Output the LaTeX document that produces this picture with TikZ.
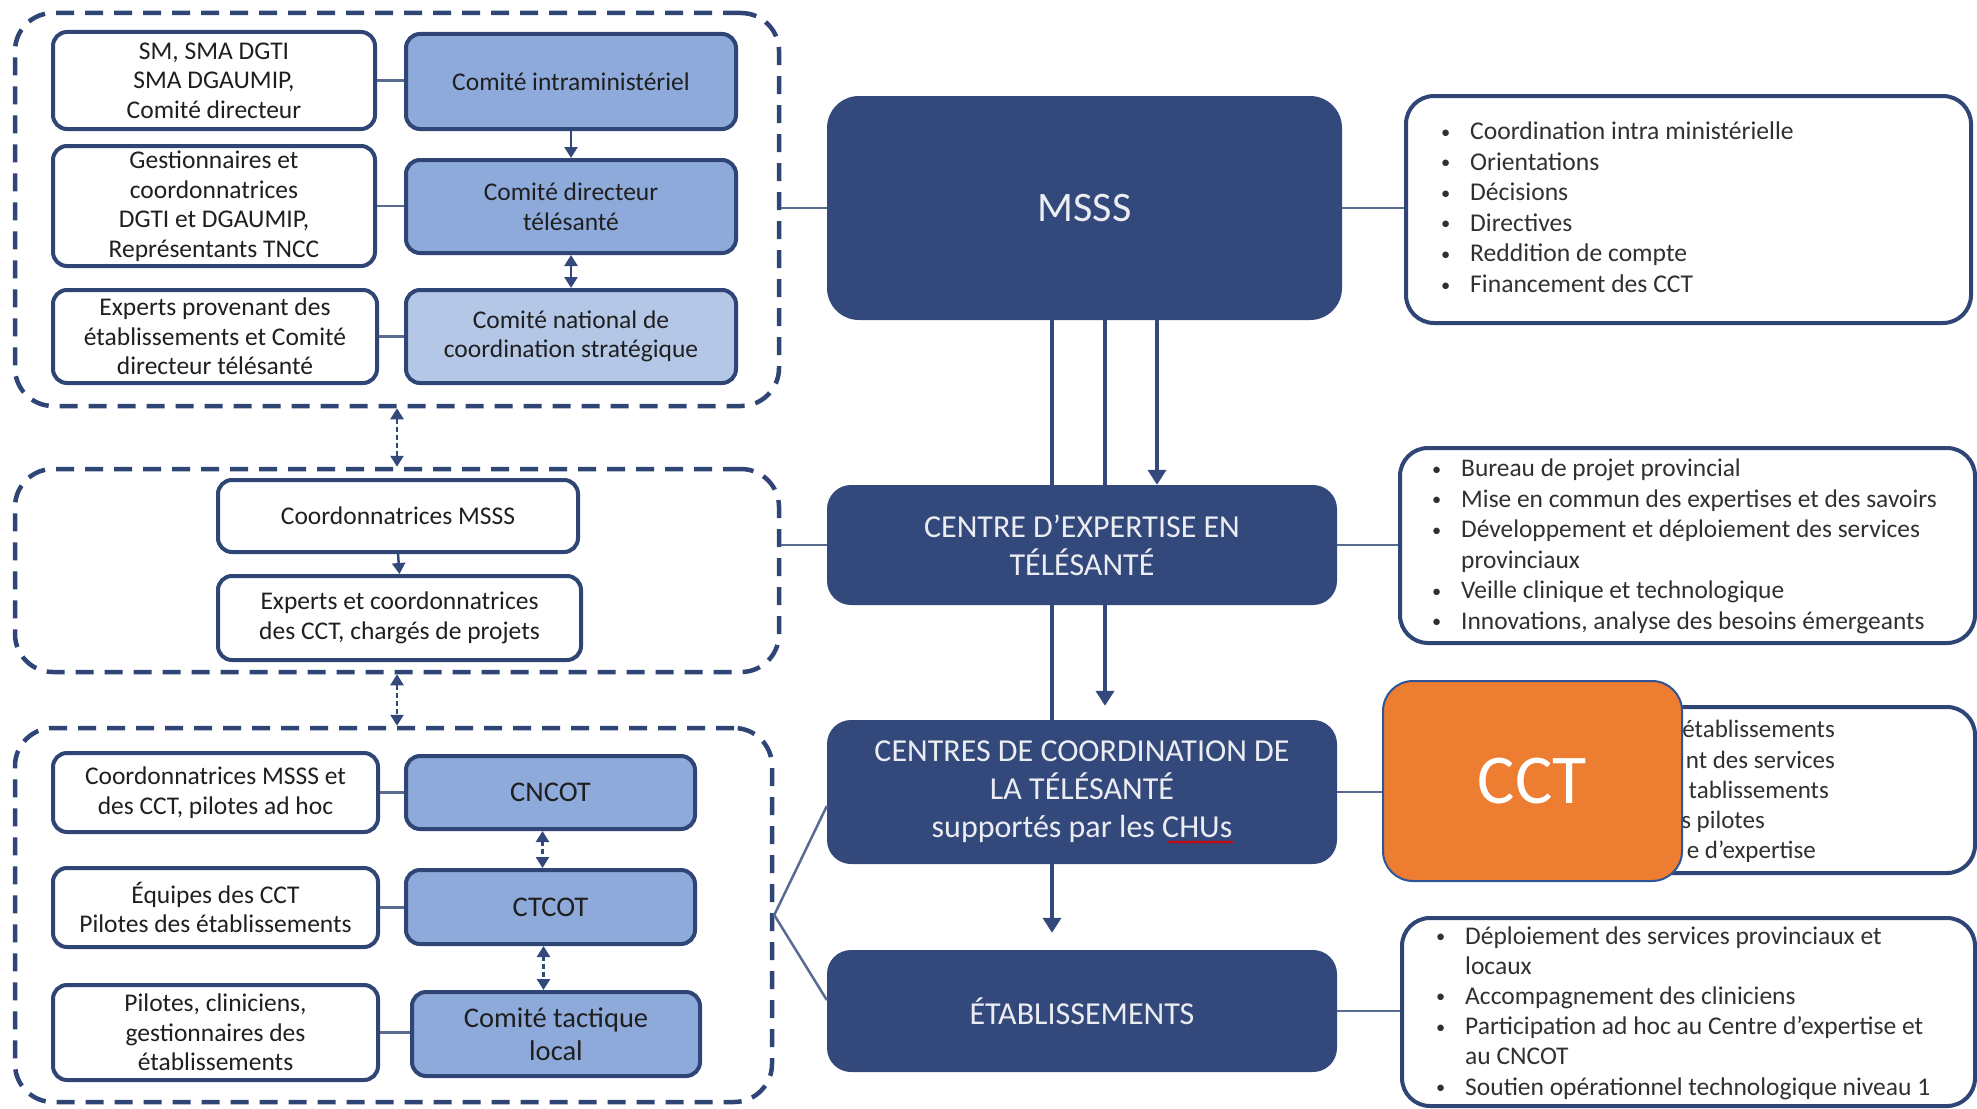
\documentclass[tikz,border=0pt]{standalone}
\usepackage{fontspec}
\usepackage{graphicx}
\setmainfont{Carlito}
\usetikzlibrary{arrows.meta,calc,decorations.pathmorphing}
\definecolor{navy}{HTML}{34497B}
\definecolor{bord}{HTML}{2F4576}
\definecolor{lblue}{HTML}{8EAADB}
\definecolor{llblue}{HTML}{B4C7E7}
\definecolor{orng}{HTML}{ED7D31}
\definecolor{obord}{HTML}{2F5597}
\definecolor{txt}{HTML}{1F1F1F}
\definecolor{txtb}{HTML}{303030}
\definecolor{conn}{HTML}{5A6B92}
\newcommand\mybul{\makebox[29pt][l]{\raisebox{1.5pt}{\scalebox{0.72}{\textbullet}}}}
\tikzset{
  box/.style={draw=bord, line width=4pt, rounded corners=14pt, inner sep=0pt, align=center, text=txt, font=\fontsize{25.5}{29.5}\selectfont},
  wbox/.style={box, fill=white},
  bbox/.style={box, fill=lblue},
  bigbox/.style={box, fill=lblue, font=\fontsize{28.5}{33}\selectfont},
  mainbox/.style={fill=navy, draw=none, rounded corners=24pt, text=white!90!navy, align=center, font=\fontsize{32}{38}\selectfont, inner sep=0pt},
  grp/.style={draw=bord, line width=4.5pt, dash pattern=on 18pt off 11pt, rounded corners=38pt, inner sep=0pt},
  rbox/.style={draw=bord, line width=4pt, rounded corners=28pt, fill=white, inner sep=0pt},
  lnk/.style={draw=conn, line width=2.5pt},
  sarr/.style={draw=navy, line width=2.5pt, -{Triangle[width=13pt,length=11pt]}},
  dsarr/.style={draw=navy, line width=2.5pt, dash pattern=on 5pt off 3pt, {Triangle[width=13pt,length=11pt]}-{Triangle[width=13pt,length=11pt]}},
  barr/.style={draw=navy, line width=2.5pt, {Triangle[width=13pt,length=11pt]}-{Triangle[width=13pt,length=11pt]}},
  vline/.style={draw=navy, line width=4.5pt},
  vtip/.style={-{Triangle[width=18pt,length=15pt]}},
  lst/.style={anchor=base west, inner sep=0pt, text=txtb, align=left},
  frag/.style={anchor=base east, inner sep=0pt, text=txtb, font=\fontsize{25}{30.5}\selectfont}
}
\begin{document}
\begin{tikzpicture}[x=1pt,y=-1pt]
\useasboundingbox[fill=white] (0,0) rectangle (1977,1108);

% ---------- left groups ----------
\node[grp, minimum width=764pt, minimum height=393pt] (g1) at (397,209.5) {};
\node[wbox, minimum width=322pt, minimum height=97pt] (l1) at (214,80.5) {SM, SMA DGTI\\SMA DGAUMIP,\\Comité directeur};
\node[bbox, minimum width=330pt, minimum height=95pt] (r1) at (571,81.5) {Comité intraministériel};
\node[wbox, minimum width=322pt, minimum height=120pt] (l2) at (214,206) {Gestionnaires et\\coordonnatrices\\DGTI et DGAUMIP,\\Représentants TNCC};
\node[bbox, minimum width=330pt, minimum height=93pt] (r2) at (571,206.5) {Comité directeur\\télésanté};
\node[wbox, minimum width=324pt, minimum height=93pt] (l3) at (215,336.5) {Experts provenant des\\établissements et Comité\\directeur télésanté};
\node[box, fill=llblue, minimum width=330pt, minimum height=93pt] (r3) at (571,336.5) {Comité national de\\coordination stratégique};

\node[grp, minimum width=764pt, minimum height=203pt] (g2) at (397,570.5) {};
\node[wbox, minimum width=360pt, minimum height=72pt] (m1) at (398,516) {Coordonnatrices MSSS};
\node[wbox, minimum width=363pt, minimum height=84pt] (m2) at (399.5,618) {Experts et coordonnatrices\\des CCT, chargés de projets};

\node[grp, minimum width=757pt, minimum height=374pt] (g3) at (393.5,915) {};
\node[wbox, minimum width=325pt, minimum height=79pt] (bl1) at (215.5,792.5) {Coordonnatrices MSSS et\\des CCT, pilotes ad hoc};
\node[bigbox, minimum width=289pt, minimum height=73pt] (cncot) at (550.5,792.5) {CNCOT};
\node[wbox, minimum width=325pt, minimum height=79pt] (bl2) at (215.5,907.5) {Équipes des CCT\\Pilotes des établissements};
\node[bigbox, minimum width=289pt, minimum height=74pt] (ctcot) at (550.5,907) {CTCOT};
\node[wbox, minimum width=325pt, minimum height=95pt] (bl3) at (215.5,1032.5) {Pilotes, cliniciens,\\gestionnaires des\\établissements};
\node[bigbox, minimum width=288pt, minimum height=84pt] (ctl) at (556,1034) {Comité tactique\\local};

% left internal links
\draw[lnk] (l1.east) -- (l1.east -| r1.west);
\draw[lnk] (l2.east) -- (l2.east -| r2.west);
\draw[lnk] (l3.east) -- (l3.east -| r3.west);
\draw[lnk] (bl1.east) -- (bl1.east -| cncot.west);
\draw[lnk] (bl2.east) -- (bl2.east -| ctcot.west);
\draw[lnk] (bl3.east) -- (bl3.east -| ctl.west);

\draw[sarr] (r1.south) -- (r2.north);
\draw[barr] (r2.south) -- (r3.north);
\draw[sarr] (m1.south) -- (m2.north);
\draw[dsarr] (g1.south) -- (g1.south |- g2.north);
\draw[dsarr] (g2.south) -- (g2.south |- g3.north);
\coordinate (c1) at ($(cncot.south)+(-8,0)$);
\draw[dsarr] (c1) -- (c1 |- ctcot.north);
\coordinate (c2) at ($(ctcot.south)+(-7,0)$);
\draw[dsarr] (c2) -- (c2 |- ctl.north);

% ---------- centre column ----------
\node[mainbox, rounded corners=32pt, minimum width=515pt, minimum height=224pt, font=\fontsize{42}{50}\selectfont] (msss) at (1084.5,208) {MSSS};
\node[mainbox, minimum width=510pt, minimum height=120pt] (ce) at (1082,545) {CENTRE D’EXPERTISE EN\\TÉLÉSANTÉ};
\node[mainbox, minimum width=510pt, minimum height=144pt] (cct) at (1082,792) {CENTRES DE COORDINATION DE\\LA TÉLÉSANTÉ\\supportés par les CHUs};
\node[mainbox, minimum width=510pt, minimum height=122pt] (etab) at (1082,1011) {ÉTABLISSEMENTS};
\draw[red!85!black, line width=1.1pt, decorate, decoration={snake, amplitude=1.2pt, segment length=4pt}] (1168,842) -- (1234,842);

\coordinate (a1) at ($(msss.south)+(-32.5,0)$);
\coordinate (a2) at ($(msss.south)+(20.5,0)$);
\coordinate (a3) at ($(msss.south)+(72.5,0)$);
\draw[vline] (a1) -- (a1 |- ce.north);
\draw[vline] (a1 |- ce.south) -- (a1 |- cct.north);
\draw[vline, vtip, shorten >=17pt] (a1 |- cct.south) -- (a1 |- etab.north);
\draw[vline] (a2) -- (a2 |- ce.north);
\draw[vline, vtip, shorten >=14pt] (a2 |- ce.south) -- (a2 |- cct.north);
\draw[vline, vtip] (a3) -- (a3 |- ce.north);

\draw[lnk] (g1.east |- msss.west) -- (msss.west);
\draw[lnk] (g2.east |- ce.west) -- (ce.west);
\draw[lnk] (g3.east) -- ($(cct.west)+(0,14)$);
\draw[lnk] (g3.east) -- ($(etab.west)+(0,-11)$);

% ---------- right column ----------
\node[rbox, minimum width=565pt, minimum height=227pt] (rb1) at (1688.5,209.5) {};
\node[rbox, minimum width=575pt, minimum height=195pt] (rb2) at (1687.5,545.5) {};
\node[rbox, minimum width=575pt, minimum height=166pt] (rb3) at (1687.5,790) {};
\node[rbox, minimum width=573pt, minimum height=188pt] (rb4) at (1688.5,1012) {};

\draw[lnk] (msss.east) -- (msss.east -| rb1.west);
\draw[lnk] (ce.east) -- (ce.east -| rb2.west);
\draw[lnk] (cct.east) -- (cct.east -| rb3.west);
\draw[lnk] (etab.east) -- (etab.east -| rb4.west);

\node[lst, font=\fontsize{25.6}{30.6}\selectfont] (t1) at (1441,139.5) {\begin{tabular}[t]{@{}l@{}l@{}}
\mybul & Coordination intra ministérielle\\
\mybul & Orientations\\
\mybul & Décisions\\
\mybul & Directives\\
\mybul & Reddition de compte\\
\mybul & Financement des CCT
\end{tabular}};

\node[lst, font=\fontsize{25.4}{30.5}\selectfont] (t2) at (1432,476.5) {\begin{tabular}[t]{@{}l@{}l@{}}
\mybul & Bureau de projet provincial\\
\mybul & Mise en commun des expertises et des savoirs\\
\mybul & Développement et déploiement des services\\
 & provinciaux\\
\mybul & Veille clinique et technologique\\
\mybul & Innovations, analyse des besoins émergeants
\end{tabular}};

\node[frag] (f1) at (1835,737) {établissements};
\node[frag] (f2) at (1835,768) {nt des services};
\node[frag] (f3) at (1829,798) {tablissements};
\node[frag] (f4) at (1765,828) {s pilotes};
\node[frag] (f5) at (1816,858) {e d’expertise};

\node[lst, font=\fontsize{25.5}{30.2}\selectfont] (t4) at (1436,944) {\begin{tabular}[t]{@{}l@{}l@{}}
\mybul & Déploiement des services provinciaux et\\
 & locaux\\
\mybul & Accompagnement des cliniciens\\
\mybul & Participation ad hoc au Centre d’expertise et\\
 & au CNCOT\\
\mybul & Soutien opérationnel technologique niveau 1
\end{tabular}};

% orange overlay
\node[draw=obord, line width=2pt, fill=orng, rounded corners=30pt, minimum width=299pt, minimum height=200pt, inner sep=0pt, text=white, font=\fontsize{70}{80}\selectfont] (cctlabel) at (1532.5,781) {CCT};
\end{tikzpicture}
\end{document}
